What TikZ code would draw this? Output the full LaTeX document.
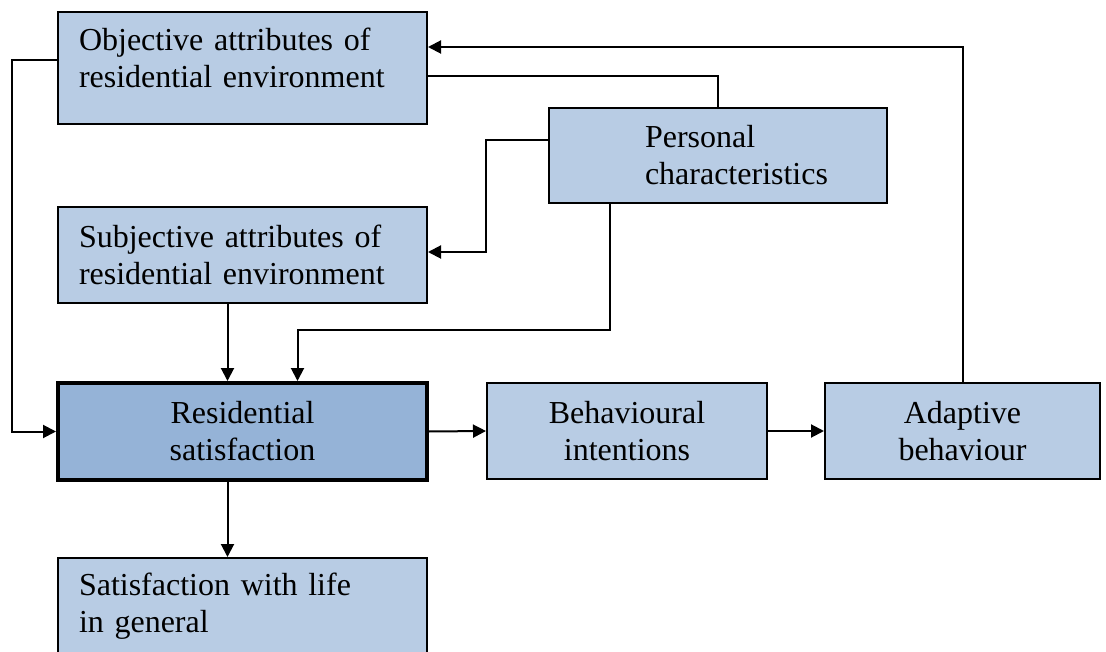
\documentclass[tikz,border=0pt]{standalone}
\usepackage{fontspec}
\setmainfont{Liberation Serif}
\usetikzlibrary{arrows.meta}
\definecolor{boxblue}{RGB}{184,204,228}
\definecolor{darkblue}{RGB}{149,179,215}

\begin{document}
\begin{tikzpicture}[x=1pt,y=-1pt]
  \tikzset{BoxStyle/.style = {
    shape         = rectangle,
    draw          = black,
    fill          = boxblue,
    line width    = 2pt,
    text          = black,
    inner sep     = 0pt,
    font          = \fontsize{32}{37}\selectfont,
    minimum width = 369pt,
    minimum height= 96pt
    }
  }
  \tikzset{MainStyle/.style = {
    BoxStyle,
    fill          = darkblue,
    line width    = 4pt,
    minimum height= 97pt,
    align         = center
    }
  }
  \tikzset{EdgeStyle/.style = {
    draw          = black,
    line width    = 2pt
    }
  }
  \tikzset{ArrowStyle/.style = {
    EdgeStyle,
    -{Triangle[length=13pt,width=13pt]}
    }
  }
  \useasboundingbox (0,0) rectangle (1106,652);

	\node[BoxStyle, minimum height=112pt, text width=327pt, text depth=58pt, align=left](obj) at (242.5, 68) {Objective attributes of\\residential environment};
	\node[BoxStyle, minimum width=338pt, minimum height=95pt, text width=146pt, align=left](pers) at (718, 155.5) {Personal\\characteristics};
	\node[BoxStyle, text width=327pt, align=left](subj) at (242.5, 255) {Subjective attributes of\\residential environment};
	\node[MainStyle](resid) at (242.5, 431.5) {Residential\\satisfaction};
	\node[BoxStyle, minimum width=280pt, align=center](behav) at (627, 431) {Behavioural\\intentions};
	\node[BoxStyle, minimum width=275pt, align=center](adapt) at (962.5, 431) {Adaptive\\behaviour};
	\node[BoxStyle, text width=327pt, align=left](life) at (242.5, 606) {Satisfaction with life\\in general};
	\draw[ArrowStyle](adapt.north) |- ([yshift=21pt]obj.east);
	\draw[EdgeStyle](pers.north) |- ([yshift=-8pt]obj.east);
	\draw[ArrowStyle]([yshift=15pt]pers.west) -- ++(-62,0) |- ([yshift=3pt]subj.east);
	\draw[ArrowStyle]([xshift=-108pt]pers.south) -- ++(0,126) -| ([xshift=55pt]resid.north);
	\draw[ArrowStyle]([xshift=-15pt]subj.south) -- ([xshift=-15pt]resid.north);
	\draw[ArrowStyle]([yshift=8pt]obj.west) -- ++(-45,0) |- (resid.west);
	\draw[ArrowStyle](resid.east) to (behav.west);
	\draw[ArrowStyle](behav.east) to (adapt.west);
	\draw[ArrowStyle]([xshift=-15pt]resid.south) -- ([xshift=-15pt]life.north);

\end{tikzpicture}
\end{document}
